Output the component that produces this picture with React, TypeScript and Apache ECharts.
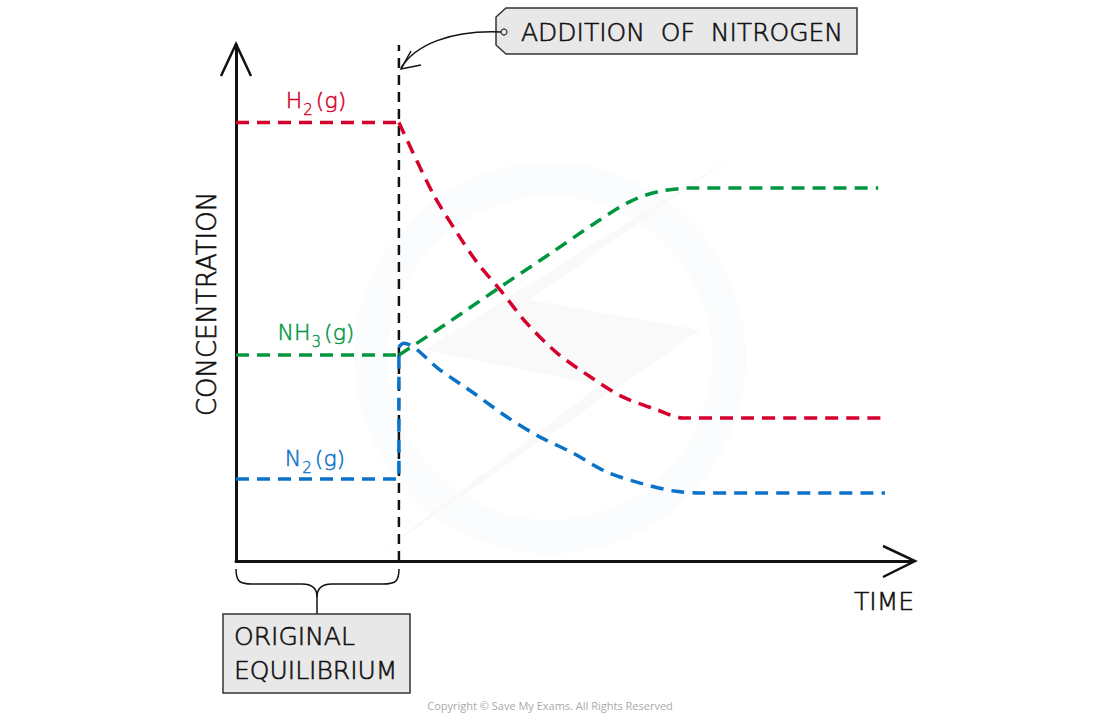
import React, { useEffect, useRef } from "react";
import * as echarts from "echarts";

// time (0-100) vs concentration (0-100), schematic units
const changeTime = 24.1;
const h2Before: number[][] = [[0, 85], [24.1, 85]];
const h2After: number[][] = [
  [24.1, 85], [29.1, 71.3], [32.7, 63.6], [35.7, 57.8], [39.1, 52.5], [43.0, 46.1],
  [47.5, 40.3], [52.4, 35.7], [57.2, 31.8], [62.3, 29.3], [66.1, 27.7], [96, 27.7],
];
const nh3Before: number[][] = [[0, 39.9], [24.1, 39.9]];
const nh3After: number[][] = [
  [24.1, 39.9], [31.7, 46.5], [39.1, 53.1], [46.4, 59.5], [53.8, 66.1], [58.5, 69.8],
  [62.5, 71.6], [67.6, 72.3], [95, 72.3],
];
const n2Before: number[][] = [[0, 15.9], [24.1, 15.9], [24.1, 41.5]];
const n2After: number[][] = [
  [24.1, 41.5], [24.8, 42.2], [30.2, 37.0], [35.1, 32.6], [40.1, 27.9], [45.0, 24.0],
  [49.9, 20.9], [54.9, 17.2], [59.8, 15.1], [64.6, 13.6], [68.6, 13.2], [96, 13.2],
];
const markerLine: number[][] = [[changeTime, 0], [changeTime, 100]];

const RED = "#d5002c";
const GREEN = "#00963f";
const BLUE = "#0a72c8";
const INK = "#111111";
const FONT = "DejaVu Sans";

export default function App() {
  const ref = useRef<HTMLDivElement>(null);
  useEffect(() => {
    document.body.style.margin = "0";
    const chart = echarts.init(ref.current!, null, { renderer: "svg" });
    const dash = (color: string, data: number[][], smooth: boolean) => ({
      type: "line",
      data,
      smooth: smooth ? 0.3 : false,
      showSymbol: false,
      silent: true,
      lineStyle: { color, width: 3.5, type: [13, 8], cap: "butt" },
    });
    const label = (x: number, y: number, main: string, sub: string, color: string) => ({
      type: "text",
      x,
      y,
      style: {
        text: `{a|${main}}{s|${sub}}{a|(g)}`,
        align: "center",
        verticalAlign: "middle",
        fill: color,
        rich: {
          a: { fontSize: 22, fontFamily: FONT, fontWeight: 200, fill: color, stroke: color, lineWidth: 0.5 },
          s: {
            fontSize: 15,
            fontFamily: FONT,
            fontWeight: 200,
            fill: color,
            stroke: color,
            lineWidth: 0.4,
            padding: [20, 3, 0, 1],
          },
        },
      },
    });
    const txt = (x: number, y: number, text: string, size: number, align = "center", rotation = 0) => ({
      type: "text",
      x,
      y,
      rotation,
      style: {
        text,
        align,
        verticalAlign: "middle",
        fontSize: size,
        fontFamily: FONT,
        fontWeight: 200,
        fill: INK,
        stroke: INK,
        lineWidth: 0.6,
      },
    });
    const stroke = { stroke: INK, lineWidth: 1.5, fill: null };
    chart.setOption({
      animation: false,
      backgroundColor: "#ffffff",
      grid: { left: 236, right: 188, top: 45, bottom: 155 },
      xAxis: {
        type: "value",
        min: 0,
        max: 100,
        axisLine: { show: true, lineStyle: { color: INK, width: 3 } },
        axisTick: { show: false },
        axisLabel: { show: false },
        splitLine: { show: false },
      },
      yAxis: {
        type: "value",
        min: 0,
        max: 100,
        axisLine: { show: true, lineStyle: { color: INK, width: 3 } },
        axisTick: { show: false },
        axisLabel: { show: false },
        splitLine: { show: false },
      },
      series: [
        {
          type: "line",
          data: markerLine,
          showSymbol: false,
          silent: true,
          lineStyle: { color: INK, width: 2.5, type: [10, 7] },
        },
        dash(RED, h2Before, false),
        dash(RED, h2After, true),
        dash(GREEN, nh3Before, false),
        dash(GREEN, nh3After, true),
        dash(BLUE, n2Before, false),
        dash(BLUE, n2After, true),
      ],
      graphic: [
        // faint watermark
        { type: "ring", z: -5, shape: { cx: 550, cy: 358, r: 196, r0: 162 }, style: { fill: "#fafcfe" } },
        {
          type: "polygon",
          z: -5,
          shape: { points: [[735, 155], [425, 350], [600, 385], [370, 560], [700, 330], [530, 300]] },
          style: { fill: "#f9f9f9" },
        },
        // axis arrowheads
        { type: "polyline", shape: { points: [[221, 76], [236, 44], [251, 76]] }, style: { stroke: INK, lineWidth: 2.5, fill: null } },
        { type: "polyline", shape: { points: [[883, 546], [915, 561], [883, 577]] }, style: { stroke: INK, lineWidth: 2.5, fill: null } },
        // axis titles
        txt(207, 304, "CONCENTRATION", 26, "center", Math.PI / 2),
        txt(884, 601, "TIME", 25),
        // series labels
        label(316, 100, "H", "2", RED),
        label(316, 332, "NH", "3", GREEN),
        label(315, 458, "N", "2", BLUE),
        // addition tag
        {
          type: "polygon",
          shape: { points: [[506, 8], [857, 8], [857, 54], [506, 54], [496, 45], [496, 17]] },
          style: { fill: "#e8e8e8", stroke: "#333", lineWidth: 1.5 },
        },
        { type: "circle", shape: { cx: 504, cy: 32, r: 3 }, style: { fill: "#e8e8e8", stroke: "#333", lineWidth: 1.2 } },
        txt(682, 32, "ADDITION  OF  NITROGEN", 25),
        {
          type: "bezierCurve",
          shape: { x1: 501, y1: 32, cpx1: 450, cpy1: 30, cpx2: 415, cpy2: 45, x2: 401, y2: 68 },
          style: stroke,
        },
        { type: "polyline", shape: { points: [[411, 51], [401, 69], [421, 65]] }, style: stroke },
        // brace
        { type: "bezierCurve", shape: { x1: 236, y1: 569, cpx1: 236, cpy1: 582, cpx2: 240, cpy2: 584, x2: 252, y2: 584 }, style: stroke },
        { type: "line", shape: { x1: 252, y1: 584, x2: 302, y2: 584 }, style: stroke },
        { type: "bezierCurve", shape: { x1: 302, y1: 584, cpx1: 313, cpy1: 584, cpx2: 317, cpy2: 589, x2: 317, y2: 597 }, style: stroke },
        { type: "bezierCurve", shape: { x1: 332, y1: 584, cpx1: 321, cpy1: 584, cpx2: 317, cpy2: 589, x2: 317, y2: 597 }, style: stroke },
        { type: "line", shape: { x1: 332, y1: 584, x2: 383, y2: 584 }, style: stroke },
        { type: "bezierCurve", shape: { x1: 383, y1: 584, cpx1: 395, cpy1: 584, cpx2: 399, cpy2: 582, x2: 399, y2: 569 }, style: stroke },
        { type: "line", shape: { x1: 317, y1: 597, x2: 317, y2: 614 }, style: stroke },
        // original equilibrium box
        { type: "rect", shape: { x: 223, y: 614, width: 187, height: 79 }, style: { fill: "#e8e8e8", stroke: "#333", lineWidth: 1.5 } },
        txt(234, 636, "ORIGINAL", 25, "left"),
        txt(234, 670, "EQUILIBRIUM", 25, "left"),
        {
          type: "text",
          x: 550,
          y: 705,
          style: {
            text: "Copyright © Save My Exams. All Rights Reserved",
            align: "center",
            verticalAlign: "middle",
            fontSize: 11,
            fontFamily: "Open Sans",
            fill: "#aaaaaa",
          },
        },
      ],
    });
    return () => chart.dispose();
  }, []);
  return <div ref={ref} style={{ width: 1100, height: 716 }} />;
}
